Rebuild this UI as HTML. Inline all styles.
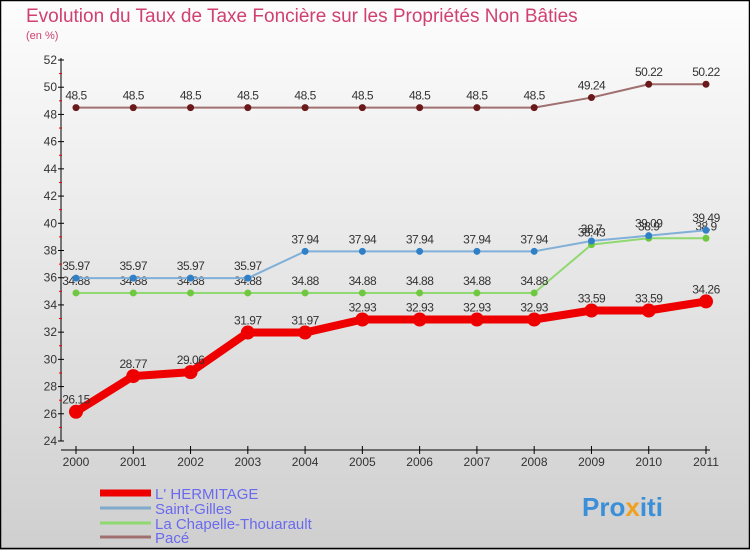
<!DOCTYPE html>
<html><head><meta charset="utf-8"><style>
body{margin:0;width:750px;height:550px;overflow:hidden;font-family:"Liberation Sans",sans-serif}
</style></head><body>
<svg id="c" width="750" height="550" xmlns="http://www.w3.org/2000/svg">
<defs><linearGradient id="bg" x1="0" y1="0" x2="0" y2="1"><stop offset="0" stop-color="#fdfdfd"/><stop offset="1" stop-color="#cfcfcf"/></linearGradient></defs>
<rect x="0" y="0" width="750" height="550" fill="url(#bg)"/>
<rect x="0.5" y="0.5" width="749" height="548" fill="none" stroke="#000" stroke-width="1.5"/>
<text x="26" y="22" font-size="19" fill="#d04070">Evolution du Taux de Taxe Foncière sur les Propriétés Non Bâties</text>
<text x="26" y="39" font-size="11" fill="#d04070">(en %)</text>
<g id="axes"></g><g id="series"></g>
<g id="legend"></g>
<text x="582" y="516" font-size="26" font-weight="bold" fill="#3a8fd8">Pro<tspan fill="#f0a020">x</tspan>iti</text>
</svg>
<script>
const years=[2000,2001,2002,2003,2004,2005,2006,2007,2008,2009,2010,2011];
const hermitage=[26.15,28.77,29.06,31.97,31.97,32.93,32.93,32.93,32.93,33.59,33.59,34.26];
const saintGilles=[35.97,35.97,35.97,35.97,37.94,37.94,37.94,37.94,37.94,38.7,39.09,39.49];
const chapelle=[34.88,34.88,34.88,34.88,34.88,34.88,34.88,34.88,34.88,38.43,38.9,38.9];
const pace=[48.5,48.5,48.5,48.5,48.5,48.5,48.5,48.5,48.5,49.24,50.22,50.22];
const yTicks=[24,26,28,30,32,34,36,38,40,42,44,46,48,50,52];
const NS="http://www.w3.org/2000/svg";
const X=i=>76+i*(630/11);
const Y=v=>441-(v-24)*(381/28);
function mk(p,t,a){const e=document.createElementNS(NS,t);for(const k in a)e.setAttribute(k,a[k]);p.appendChild(e);return e;}
const ax=document.getElementById('axes');
let l=mk(ax,'line',{x1:61,y1:58,x2:61,y2:441,stroke:'#000'});

l=mk(ax,'line',{x1:61,y1:450,x2:710,y2:450,stroke:'#000'});

yTicks.forEach((v,i)=>{
 mk(ax,'line',{x1:58,y1:Y(v),x2:64,y2:Y(v),stroke:'#000'});
 if(i<yTicks.length-1)mk(ax,'line',{x1:59,y1:Y(v+1),x2:62,y2:Y(v+1),stroke:'#e00'});
 const t=mk(ax,'text',{x:57,y:Y(v)+4,'font-size':12,'text-anchor':'end',fill:'#333'});t.textContent=v;
 
});
years.forEach((y,i)=>{
 mk(ax,'line',{x1:X(i),y1:446,x2:X(i),y2:454,stroke:'#000'});
 const t=mk(ax,'text',{x:X(i),y:466,'font-size':12,'text-anchor':'middle',fill:'#333'});t.textContent=y;
 
});
const sg=document.getElementById('series');
function series(vals,line,dot,w,r,name){
 const g=mk(sg,'g',{});
 
 mk(g,'polyline',{points:vals.map((v,i)=>X(i)+','+Y(v)).join(' '),fill:'none',stroke:line,'stroke-width':w,'stroke-linejoin':'round'});
 vals.forEach((v,i)=>{
  const c=mk(g,'circle',{cx:X(i),cy:Y(v),r:r,fill:dot});
  
  const t=mk(g,'text',{x:X(i),y:Y(v)-8,'font-size':12,'text-anchor':'middle',fill:'#333','letter-spacing':'-0.5'});t.textContent=v;
  
 });
}
series(pace,'#a07070','#6a1a1a',2,3.5,'pace-series');
series(chapelle,'#90d870','#70c840',2,3.5,'chapelle-series');
series(saintGilles,'#80b0d8','#3080c8',2,3.5,'saint-gilles-series');
series(hermitage,'#ee0000','#ee0000',8,7,'hermitage-series');
const lg=document.getElementById('legend');
[['L\' HERMITAGE','#ee0000',7,497],['Saint-Gilles','#80aacc',3,512],['La Chapelle-Thouarault','#90d870',3,527],['Pacé','#a07070',3,541]].forEach(d=>{
 const g=mk(lg,'g',{});
 
 mk(g,'line',{x1:100,y1:d[3]-4,x2:151,y2:d[3]-4,stroke:d[1],'stroke-width':d[2]});
 const t=mk(g,'text',{x:155,y:d[3]+2,'font-size':15,fill:'#6a6aee'});t.textContent=d[0];
});
</script>
</body></html>
